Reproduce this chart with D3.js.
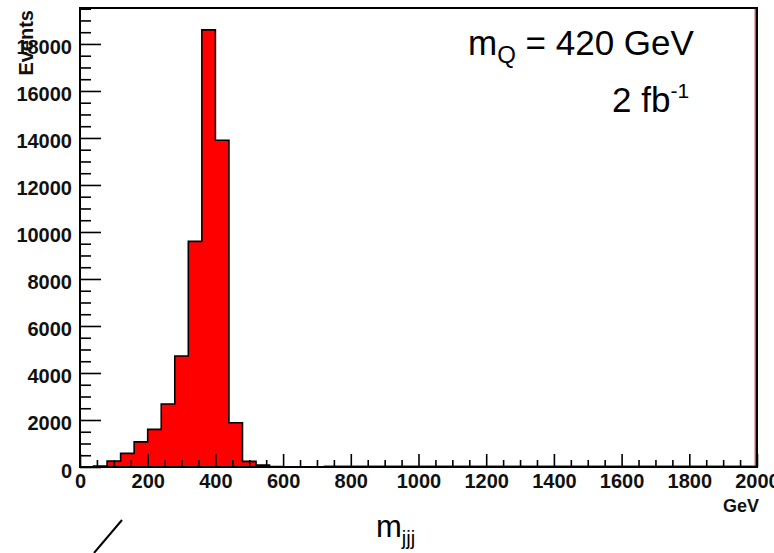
<!DOCTYPE html>
<html>
<head>
<meta charset="utf-8">
<script src="https://cdn.jsdelivr.net/npm/d3@7"></script>
<style>
  html, body { margin: 0; padding: 0; background: #ffffff; }
  svg { display: block; }
</style>
</head>
<body>
<svg id="chart" width="774" height="553"></svg>
<script>
// Reconstructed three-jet invariant mass, 40 GeV bins from 0 to 2000 GeV
const binWidth = 40;
const binLow = d3.range(0, 2000, binWidth);
const counts = [
  0, 40, 250, 580, 1070, 1600, 2680, 4720, 9600, 18600,
  13900, 1880, 240, 80, 20, 0, 0, 0, 0, 0,
  0, 0, 0, 0, 0, 0, 0, 0, 0, 0,
  0, 0, 0, 0, 0, 0, 0, 0, 0, 0,
  0, 0, 0, 0, 0, 0, 0, 0, 0, 0
];
const xMajorTicks = [0, 200, 400, 600, 800, 1000, 1200, 1400, 1600, 1800, 2000];
const yMajorTicks = [0, 2000, 4000, 6000, 8000, 10000, 12000, 14000, 16000, 18000];

const svg = d3.select("#chart");
const frame = { left: 80, right: 757, top: 8, bottom: 467 };

const x = d3.scaleLinear().domain([0, 2000]).range([frame.left, frame.right]);
const y = d3.scaleLinear().domain([0, 1.05 * d3.max(counts)]).range([frame.bottom, frame.top]);

svg.append("rect").attr("width", 774).attr("height", 553).attr("fill", "#ffffff");

// histogram as a step outline
const pts = binLow.map((lo, i) => ({ x: lo, v: counts[i] }));
pts.push({ x: 2000, v: counts[counts.length - 1] });

const area = d3.area()
  .x(d => x(d.x)).y0(y(0)).y1(d => y(d.v))
  .curve(d3.curveStepAfter);
const line = d3.line()
  .x(d => x(d.x)).y(d => y(d.v))
  .curve(d3.curveStepAfter);

svg.append("path").attr("d", area(pts)).attr("fill", "#ff0000");
svg.append("path").attr("d", line(pts))
  .attr("fill", "none").attr("stroke", "#000").attr("stroke-width", 1.6);

// faint red edge of the filled region along the empty tail
svg.append("line")
  .attr("x1", x(720)).attr("x2", x(2000))
  .attr("y1", y(0) - 1.5).attr("y2", y(0) - 1.5)
  .attr("stroke", "#ff6060").attr("stroke-width", 1);
svg.append("line")
  .attr("x1", frame.right - 1.8).attr("x2", frame.right - 1.8)
  .attr("y1", frame.top).attr("y2", frame.bottom)
  .attr("stroke", "#b00000").attr("stroke-width", 1);

// y axis: minor ticks every 500, major every 2000, ticks pointing inward
const yMinor = d3.range(0, y.domain()[1], 500).filter(v => v % 2000 !== 0);
svg.append("g")
  .attr("transform", `translate(${frame.left},0)`)
  .call(d3.axisLeft(y).tickValues(yMinor).tickSize(-11).tickFormat(""))
  .call(g => g.select(".domain").remove())
  .call(g => g.selectAll("line").attr("stroke", "#000").attr("stroke-width", 1.6));

const yAxis = svg.append("g")
  .attr("transform", `translate(${frame.left},0)`)
  .call(d3.axisLeft(y).tickValues(yMajorTicks).tickSize(-21).tickPadding(8).tickFormat(d3.format("d")))
  .call(g => g.select(".domain").remove());
yAxis.selectAll("line").attr("stroke", "#000").attr("stroke-width", 1.6);
yAxis.selectAll("text")
  .attr("font-family", "Liberation Sans, Arial, sans-serif")
  .attr("font-weight", "bold").attr("font-size", 20)
  .attr("fill", "#111").attr("dy", 10);

// x axis: minor ticks every 50, major every 200
const xMinor = d3.range(50, 2000, 50).filter(v => v % 200 !== 0);
svg.append("g")
  .attr("transform", `translate(0,${frame.bottom})`)
  .call(d3.axisBottom(x).tickValues(xMinor).tickSize(-7).tickFormat(""))
  .call(g => g.select(".domain").remove())
  .call(g => g.selectAll("line").attr("stroke", "#000").attr("stroke-width", 1.6));

const xAxis = svg.append("g")
  .attr("transform", `translate(0,${frame.bottom})`)
  .call(d3.axisBottom(x).tickValues(xMajorTicks).tickSize(-13).tickPadding(7).tickFormat(d3.format("d")))
  .call(g => g.select(".domain").remove());
xAxis.selectAll("line").attr("stroke", "#000").attr("stroke-width", 1.6);
xAxis.selectAll("text")
  .attr("font-family", "Liberation Sans, Arial, sans-serif")
  .attr("font-weight", "bold").attr("font-size", 20)
  .attr("fill", "#111");

// frame
svg.append("rect")
  .attr("x", frame.left).attr("y", frame.top)
  .attr("width", frame.right - frame.left).attr("height", frame.bottom - frame.top)
  .attr("fill", "none").attr("stroke", "#000").attr("stroke-width", 2);

// axis titles
svg.append("text")
  .attr("transform", `translate(33,${frame.top + 2}) rotate(-90)`)
  .attr("text-anchor", "end")
  .attr("font-family", "Liberation Sans, Arial, sans-serif")
  .attr("font-weight", "bold").attr("font-size", 20)
  .attr("fill", "#111")
  .text("Events");

svg.append("text")
  .attr("x", 759).attr("y", 512)
  .attr("text-anchor", "end")
  .attr("font-family", "Liberation Sans, Arial, sans-serif")
  .attr("font-weight", "bold").attr("font-size", 18)
  .attr("fill", "#111")
  .text("GeV");

// annotations
const big = "Liberation Sans, Arial, sans-serif";
const mq = svg.append("text")
  .attr("x", 468).attr("y", 55)
  .attr("font-family", big).attr("font-size", 35).attr("fill", "#000");
mq.append("tspan").text("m");
mq.append("tspan").attr("font-size", 24).attr("dy", 8).text("Q");
mq.append("tspan").attr("dy", -8).text(" = 420 GeV");

const lumi = svg.append("text")
  .attr("x", 612).attr("y", 112)
  .attr("font-family", big).attr("font-size", 35).attr("fill", "#000");
lumi.append("tspan").text("2 fb");
lumi.append("tspan").attr("font-size", 21).attr("dy", -14).text("-1");

const mjjj = svg.append("text")
  .attr("x", 376).attr("y", 537)
  .attr("font-family", big).attr("font-size", 31).attr("fill", "#000");
mjjj.append("tspan").text("m");
mjjj.append("tspan").attr("font-size", 20).attr("dy", 8).text("jjj");

// stray slash mark below the axis
svg.append("line")
  .attr("x1", 94).attr("y1", 553).attr("x2", 122).attr("y2", 520)
  .attr("stroke", "#000").attr("stroke-width", 2);
</script>
</body>
</html>
